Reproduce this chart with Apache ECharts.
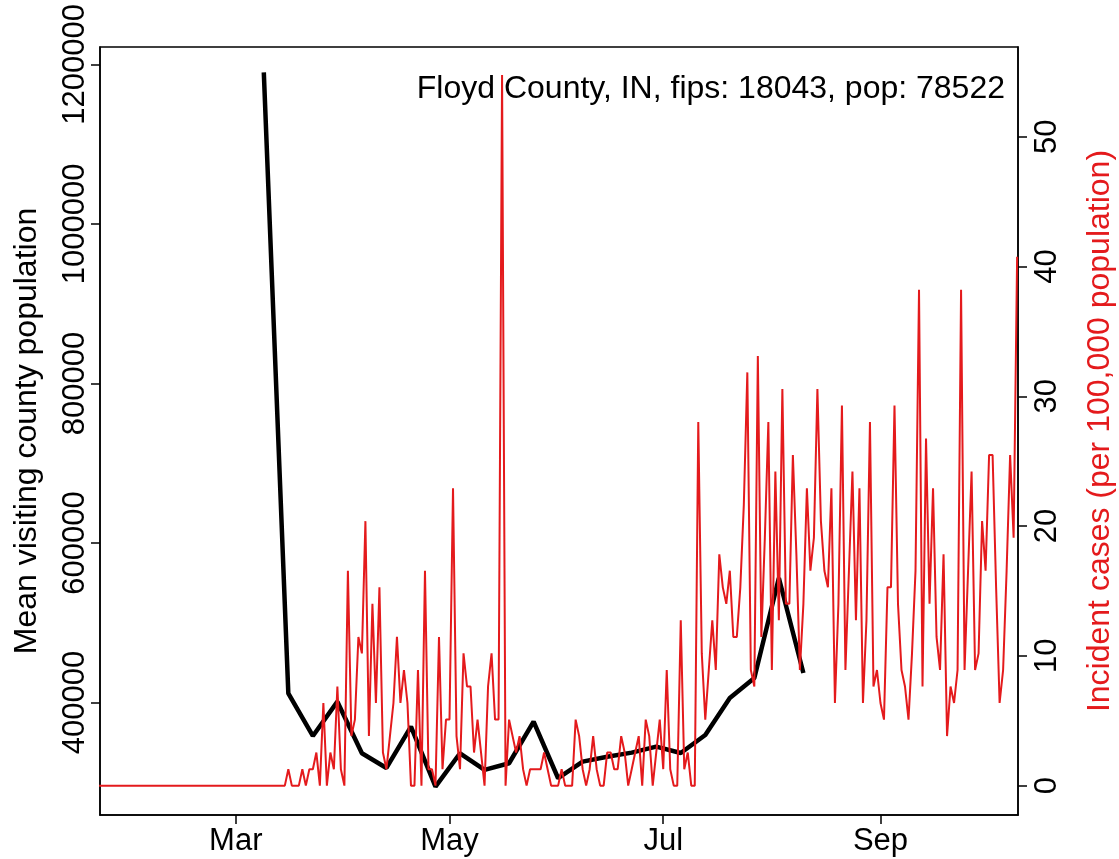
<!DOCTYPE html>
<html>
<head>
<meta charset="UTF-8">
<title>Floyd County, IN</title>
<style>
html, body { margin: 0; padding: 0; background: #fff; }
#main { width: 1119px; height: 859px; }
</style>
</head>
<body>
<div id="main"></div>
<script src="https://cdn.jsdelivr.net/npm/echarts@6/dist/echarts.min.js"></script>
<script>
// weekly mean visiting county population (black line)
var visitDates = ['2020-03-09', '2020-03-16', '2020-03-23', '2020-03-30', '2020-04-06', '2020-04-13',
  '2020-04-20', '2020-04-27', '2020-05-04', '2020-05-11', '2020-05-18', '2020-05-25', '2020-06-01',
  '2020-06-08', '2020-06-15', '2020-06-22', '2020-06-29', '2020-07-06', '2020-07-13', '2020-07-20',
  '2020-07-27', '2020-08-03', '2020-08-10'];
var visitValues = [1190000, 411500, 358000, 401000, 336300, 317900,
  369700, 294400, 336300, 315400, 323800, 375900, 305000,
  325800, 332000, 337100, 344600, 336700, 359200, 405600,
  430700, 556100, 437000];

// daily incident cases per 100,000 (red line), one array per month
var casesJan = [0, 0, 0, 0, 0, 0, 0, 0, 0, 0]; // from Jan 22
var casesFeb = [0, 0, 0, 0, 0, 0, 0, 0, 0, 0, 0, 0, 0, 0, 0, 0, 0, 0, 0, 0, 0, 0, 0, 0, 0, 0, 0, 0, 0];
var casesMar = [0, 0, 0, 0, 0, 0, 0, 0, 0, 0, 0, 0, 0, 0, 0, 1.27, 0, 0, 0, 1.27, 0, 1.27, 1.27, 2.55,
  0, 6.37, 0, 2.55, 1.27, 7.64, 1.27];
var casesApr = [0, 16.56, 3.82, 5.09, 11.46, 10.19, 20.38, 3.82, 14.01, 6.37, 15.28, 2.55, 1.27, 3.82,
  6.37, 11.46, 6.37, 8.91, 6.37, 0, 0, 8.91, 0, 16.56, 1.27, 1.27, 0, 11.46, 1.27, 5.09];
var casesMay = [5.09, 22.92, 3.82, 1.27, 10.19, 7.64, 7.64, 2.55, 5.09, 2.55, 0, 7.64, 10.19, 5.09,
  5.09, 54.76, 0, 5.09, 3.82, 2.55, 3.82, 1.27, 0, 1.27, 1.27, 1.27, 1.27, 2.55, 1.27, 0, 0];
var casesJun = [0, 1.27, 0, 0, 0, 5.09, 3.82, 1.27, 0, 1.27, 3.82, 1.27, 0, 0, 2.55, 2.55, 1.27, 1.27,
  3.82, 2.55, 0, 1.27, 2.55, 3.82, 0, 5.09, 3.82, 0, 2.55, 5.09];
var casesJul = [1.27, 8.91, 1.27, 0, 0, 12.74, 1.27, 2.55, 0, 0, 28.02, 10.19, 5.09, 8.91, 12.74, 8.91,
  17.83, 15.28, 14.01, 16.56, 11.46, 11.46, 15.28, 21.65, 31.84, 8.91, 7.64, 33.11, 11.46, 19.10, 28.02];
var casesAug = [8.91, 24.20, 12.74, 30.56, 14.01, 14.01, 25.47, 17.83, 8.91, 14.01, 22.92, 16.56, 19.10,
  30.56, 20.38, 16.56, 15.28, 22.92, 6.37, 14.01, 29.29, 8.91, 16.56, 24.20, 12.74, 22.92, 6.37, 12.74,
  28.02, 7.64, 8.91];
var casesSep = [6.37, 5.09, 15.28, 15.28, 29.29, 14.01, 8.91, 7.64, 5.09, 10.19, 16.56, 38.21, 7.64,
  26.74, 14.01, 22.92, 11.46, 8.91, 17.83, 3.82, 7.64, 6.37, 8.91, 38.21, 8.91, 16.56, 24.20, 8.91,
  10.19, 20.38];
var casesOct = [16.56, 25.47, 25.47, 15.28, 6.37, 8.91, 16.56, 25.47, 19.10, 40.75];

var caseMonths = [
  ['2020-01-22', casesJan], ['2020-02-01', casesFeb], ['2020-03-01', casesMar],
  ['2020-04-01', casesApr], ['2020-05-01', casesMay], ['2020-06-01', casesJun],
  ['2020-07-01', casesJul], ['2020-08-01', casesAug], ['2020-09-01', casesSep],
  ['2020-10-01', casesOct]
];

var xTickDates = ['2020-03-01', '2020-05-01', '2020-07-01', '2020-09-01'];
var xTickLabels = ['Mar', 'May', 'Jul', 'Sep'];
var leftTicks = [400000, 600000, 800000, 1000000, 1200000];
var rightTicks = [0, 10, 20, 30, 40, 50];

function day(s, offset) {
  var p = s.split('-');
  return new Date(+p[0], +p[1] - 1, +p[2] + (offset || 0)).getTime();
}

var visitData = visitDates.map(function (d, i) { return [day(d), visitValues[i]]; });
var caseData = [];
caseMonths.forEach(function (m) {
  m[1].forEach(function (v, i) { caseData.push([day(m[0], i), v]); });
});
var xTicks = xTickDates.map(function (d) { return day(d); });

var font = "'Liberation Sans', Arial, sans-serif";
var black = '#000';
var red = '#e41a1c';
var hour = 3600 * 1000;

var myChart = echarts.init(document.getElementById('main'));
var option = {
  animation: false,
  backgroundColor: '#fff',
  textStyle: { fontFamily: font },
  title: {
    text: 'Floyd County, IN, fips: 18043, pop: 78522',
    right: 114,
    top: 73,
    padding: 0,
    textStyle: { fontSize: 32, fontWeight: 'normal', color: black, fontFamily: font }
  },
  grid: {
    left: 100, right: 101, top: 47, bottom: 44,
    outerBoundsMode: 'none',
    containLabel: false,
    show: true, borderColor: black, borderWidth: 1.5, backgroundColor: 'transparent'
  },
  // dates as timestamps on a value axis so the ticks can be placed on given months
  xAxis: {
    type: 'value',
    min: day('2020-01-22') + 6 * hour,
    max: day('2020-10-10') + 6 * hour,
    splitLine: { show: false },
    axisLine: { show: true, onZero: false, lineStyle: { color: black, width: 1.5 } },
    axisTick: { show: true, length: 9, customValues: xTicks, lineStyle: { color: black, width: 1.5 } },
    axisLabel: {
      customValues: xTicks,
      fontSize: 31, color: black, fontFamily: font, margin: 11,
      formatter: function (v) {
        var i = xTicks.indexOf(v);
        return i >= 0 ? xTickLabels[i] : '';
      }
    }
  },
  yAxis: [
    {
      type: 'value',
      position: 'left',
      min: 258900, max: 1221900,
      name: 'Mean visiting county population',
      nameLocation: 'middle',
      nameGap: 57,
      nameTextStyle: { fontSize: 32, color: black, fontFamily: font },
      splitLine: { show: false },
      axisLine: { show: true, onZero: false, lineStyle: { color: black, width: 1.5 } },
      axisTick: { show: true, length: 9, customValues: leftTicks, lineStyle: { color: black, width: 1.5 } },
      axisLabel: {
        customValues: leftTicks, rotate: 90, margin: 9,
        fontSize: 31, color: black, fontFamily: font,
        formatter: function (v) { return String(v); }
      }
    },
    {
      type: 'value',
      position: 'right',
      min: -2.26, max: 56.91,
      name: 'Incident cases (per 100,000 population)',
      nameLocation: 'middle',
      nameGap: 66,
      nameRotate: 90,
      nameTextStyle: { fontSize: 32, color: red, fontFamily: font },
      splitLine: { show: false },
      axisLine: { show: true, onZero: false, lineStyle: { color: black, width: 1.5 } },
      axisTick: { show: true, length: 9, customValues: rightTicks, lineStyle: { color: black, width: 1.5 } },
      axisLabel: {
        customValues: rightTicks, rotate: 90, margin: 14,
        fontSize: 31, color: black, fontFamily: font,
        formatter: function (v) { return String(v); }
      }
    }
  ],
  series: [
    {
      name: 'visiting',
      type: 'line',
      yAxisIndex: 0,
      data: visitData,
      showSymbol: false,
      symbol: 'none',
      lineStyle: { color: black, width: 4.5 },
      z: 2
    },
    {
      name: 'cases',
      type: 'line',
      yAxisIndex: 1,
      data: caseData,
      showSymbol: false,
      symbol: 'none',
      lineStyle: { color: red, width: 2 },
      z: 3
    }
  ]
};
myChart.setOption(option);
</script>
</body>
</html>
